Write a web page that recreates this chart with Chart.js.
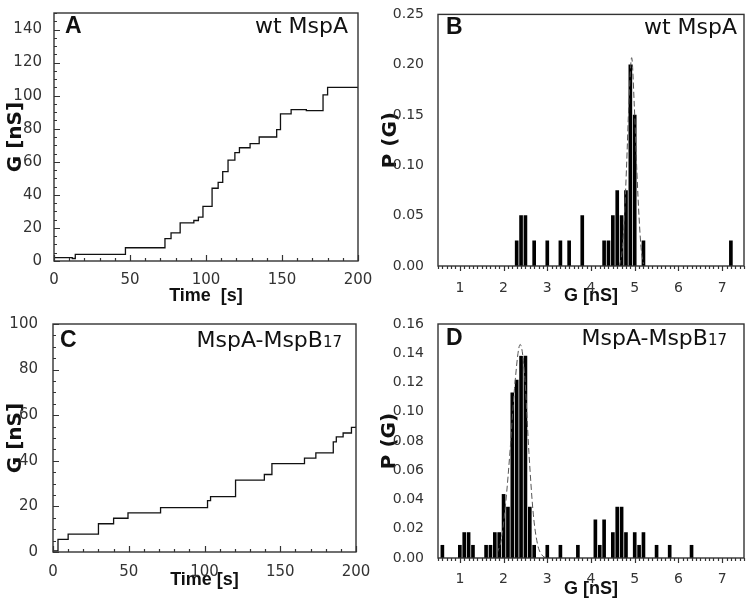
<!DOCTYPE html>
<html>
<head>
<meta charset="utf-8">
<script src="https://cdn.jsdelivr.net/npm/chart.js@4.4.1/dist/chart.umd.min.js"></script>
<style>
  body { margin: 0; background: #fff; }
  #wrap { position: relative; width: 750px; height: 605px; }
  canvas { position: absolute; }
</style>
</head>
<body>
<div id="wrap">
  <canvas id="chartA" width="375" height="305" style="left:0;top:0"></canvas>
  <canvas id="chartB" width="375" height="305" style="left:375px;top:0"></canvas>
  <canvas id="chartC" width="375" height="300" style="left:0;top:305px"></canvas>
  <canvas id="chartD" width="375" height="300" style="left:375px;top:305px"></canvas>
</div>
<script>
// Panel A: wt MspA, conductance steps (time where a level starts, level)
const timeA = [0, 12, 14, 47, 73, 77, 83, 92, 95, 98, 104, 108, 111, 114.5, 119, 122, 129, 135, 146.5, 149, 156, 166, 177, 180, 200];
const condA = [2, 1.5, 4, 8, 13.5, 17, 23, 24.5, 26.5, 33, 44, 47.5, 54, 61, 65.5, 68.5, 71, 75, 79.5, 89, 91.5, 91, 100.5, 105, 104.5];

// Panel C: MspA-MspB17 conductance steps
const timeC = [0, 3.3, 10, 30, 40, 49.5, 71, 102, 104, 120.5, 139.5, 144.5, 166, 173.5, 185, 187, 191.5, 197, 200];
const condC = [0.5, 5.5, 7.8, 12.4, 14.8, 17.2, 19.5, 22.5, 24.3, 31.5, 34, 38.8, 41.2, 43.5, 48.3, 50.5, 52.2, 54.7, 55];

// Panel B: histogram of single channel conductance, wt MspA
const binsB = [2.3, 2.4, 2.5, 2.7, 3.0, 3.3, 3.5, 3.8, 4.3, 4.4, 4.5, 4.6, 4.7, 4.8, 4.9, 5.0, 5.2, 7.2];
const probB = [0.025, 0.05, 0.05, 0.025, 0.025, 0.025, 0.025, 0.05, 0.025, 0.025, 0.05, 0.075, 0.05, 0.075, 0.2, 0.15, 0.025, 0.025];
// gaussian fit
const fitBx = [4.65, 4.71, 4.76, 4.81, 4.87, 4.93, 4.99, 5.05, 5.10, 5.15, 5.20];
const fitBy = [0.0, 0.014, 0.045, 0.095, 0.165, 0.207, 0.16, 0.093, 0.048, 0.016, 0.002];

// Panel D: histogram, MspA-MspB17
const binsD = [0.6, 1.0, 1.1, 1.2, 1.3, 1.6, 1.7, 1.8, 1.9, 2.0, 2.1, 2.2, 2.3, 2.4, 2.5, 2.6, 2.7, 3.0, 3.3, 3.7, 4.1, 4.2, 4.3, 4.5, 4.6, 4.7, 4.8, 5.0, 5.1, 5.2, 5.5, 5.8, 6.3];
const probD = [0.0087, 0.0087, 0.0174, 0.0174, 0.0087, 0.0087, 0.0087, 0.0174, 0.0174, 0.0435, 0.0348, 0.113, 0.1217, 0.138, 0.138, 0.0348, 0.0087, 0.0087, 0.0087, 0.0087, 0.0261, 0.0087, 0.0261, 0.0174, 0.0348, 0.0348, 0.0174, 0.0174, 0.0087, 0.0174, 0.0087, 0.0087, 0.0087];
const fitDx = [1.85, 1.95, 2.05, 2.15, 2.25, 2.38, 2.48, 2.58, 2.68, 2.78, 2.88, 2.97];
const fitDy = [0.003, 0.013, 0.038, 0.074, 0.116, 0.146, 0.126, 0.072, 0.03, 0.009, 0.002, 0.0];

// tick labels
const ticksTime = [0, 50, 100, 150, 200];
const ticksGA = [0, 20, 40, 60, 80, 100, 120, 140];
const ticksGC = [0, 20, 40, 60, 80, 100];
const ticksG = [1, 2, 3, 4, 5, 6, 7];
const ticksPB = [0, 0.05, 0.10, 0.15, 0.20, 0.25];
const ticksPD = [0, 0.02, 0.04, 0.06, 0.08, 0.10, 0.12, 0.14, 0.16];

const panelLetters = ['A', 'B', 'C', 'D'];
const panelNames = [['wt MspA', ''], ['wt MspA', ''], ['MspA-MspB', '17'], ['MspA-MspB', '17']];

const pts = (xs, ys) => xs.map((v, i) => ({ x: v, y: ys[i] }));

// frame, inward/outward tick marks and panel labels
const panelDeco = {
    id: 'panelDeco',
    afterDatasetsDraw(chart, args, o) {
        const { ctx, chartArea: a, scales: { x, y } } = chart;
        ctx.save();
        ctx.strokeStyle = '#333';
        ctx.lineWidth = 1.2;

        const marks = (scale, step, major, cb) => {
            const i0 = Math.ceil(scale.min / step - 1e-6);
            const i1 = Math.floor(scale.max / step + 1e-6);
            for (let i = i0; i <= i1; i++) {
                const v = i * step;
                const isMajor = Math.abs(v / major - Math.round(v / major)) < 1e-6;
                cb(Math.round(scale.getPixelForValue(v)) + 0.5, isMajor ? o.majorLen : o.minorLen);
            }
        };
        ctx.beginPath();
        marks(x, o.xStep, o.xMajor, (px, len) => {
            ctx.moveTo(px, a.bottom);
            ctx.lineTo(px, a.bottom + (o.xOut ? len : -len));
        });
        if (o.yStep) {
            marks(y, o.yStep, o.yMajor, (py, len) => {
                ctx.moveTo(a.left, py);
                ctx.lineTo(a.left + len, py);
            });
        }
        ctx.stroke();

        ctx.lineWidth = 1.4;
        ctx.strokeRect(a.left, a.top, a.right - a.left, a.bottom - a.top);

        ctx.fillStyle = '#111';
        ctx.textBaseline = 'alphabetic';
        ctx.font = 'bold 23px "Liberation Sans"';
        ctx.textAlign = 'left';
        ctx.fillText(o.letter, a.left + o.letterDx, a.top + o.letterDy);

        ctx.textAlign = 'right';
        let right = a.right - o.nameDx;
        if (o.name[1]) {
            ctx.font = '15px "DejaVu Sans"';
            ctx.fillText(o.name[1], right, a.top + o.letterDy);
            right -= ctx.measureText(o.name[1]).width;
        }
        ctx.font = '22px "DejaVu Sans"';
        ctx.fillText(o.name[0], right, a.top + o.letterDy);
        ctx.restore();
    }
};

function axisX(min, max, ticks, size, fontSize, pad, title, titlePad) {
    return {
        type: 'linear', min: min, max: max, offset: false,
        afterBuildTicks: s => { s.ticks = ticks.map(v => ({ value: v })); },
        afterFit: s => { s.height = size; },
        grid: { display: false },
        border: { display: false },
        ticks: { color: '#333', padding: pad, maxRotation: 0, font: { family: 'DejaVu Sans', size: fontSize } },
        title: { display: true, text: title, color: '#111', padding: { top: 0, bottom: titlePad },
                 font: { family: 'Liberation Sans', size: 18, weight: 'bold', lineHeight: 1 } }
    };
}

function axisY(min, max, ticks, size, fontSize, pad, digits, title, titlePad) {
    return {
        min: min, max: max,
        afterBuildTicks: s => { s.ticks = ticks.map(v => ({ value: v })); },
        afterFit: s => { s.width = size; },
        grid: { display: false },
        border: { display: false },
        ticks: { color: '#333', padding: pad, font: { family: 'DejaVu Sans', size: fontSize },
                 callback: v => v.toFixed(digits) },
        title: { display: true, text: title, color: '#111', padding: { top: titlePad, bottom: 0 },
                 font: { family: 'DejaVu Sans', size: 20, weight: 'bold', lineHeight: 1 } }
    };
}

const baseOptions = (pad, x, y, deco) => ({
    responsive: false,
    animation: false,
    layout: { padding: pad },
    plugins: { legend: { display: false }, tooltip: { enabled: false }, panelDeco: deco },
    scales: { x: x, y: y }
});

// A
new Chart(document.getElementById('chartA'), {
    type: 'line',
    data: { datasets: [{
        data: pts(timeA, condA), stepped: 'before', borderColor: '#111', borderWidth: 1.3, pointRadius: 0
    }] },
    options: baseOptions({ left: 0, right: 17, top: 13, bottom: 0 },
        axisX(0, 200, ticksTime, 44, 15, 2, 'Time  [s]', 0),
        axisY(0, 150, ticksGA, 54, 15, 4, 0, 'G [nS]', 6),
        { letter: panelLetters[0], name: panelNames[0], letterDx: 11, letterDy: 20, nameDx: 10,
          xStep: 10, xMajor: 50, yStep: 5, yMajor: 20, xOut: false, minorLen: 3, majorLen: 6 }),
    plugins: [panelDeco]
});

// B
new Chart(document.getElementById('chartB'), {
    type: 'bar',
    data: { datasets: [
        { type: 'line', data: pts(fitBx, fitBy), borderColor: '#555', borderWidth: 1, borderDash: [6, 3],
          pointRadius: 0, cubicInterpolationMode: 'monotone', order: 0 },
        { data: pts(binsB, probB), backgroundColor: '#000', barThickness: 3, order: 1 }
    ] },
    options: baseOptions({ left: 0, right: 6, top: 13, bottom: 0 },
        axisX(0.5, 7.5, ticksG, 39, 14, 6, 'G [nS]', 0),
        axisY(0, 0.25, ticksPB, 63, 14, 6, 2, 'P (G)', 6),
        { letter: panelLetters[1], name: panelNames[1], letterDx: 8, letterDy: 20, nameDx: 7,
          xStep: 0.1, xMajor: 1, yStep: 0, xOut: true, minorLen: 3, majorLen: 5 }),
    plugins: [panelDeco]
});

// C
new Chart(document.getElementById('chartC'), {
    type: 'line',
    data: { datasets: [{
        data: pts(timeC, condC), stepped: 'before', borderColor: '#111', borderWidth: 1.3, pointRadius: 0
    }] },
    options: baseOptions({ left: 0, right: 19, top: 19, bottom: 0 },
        axisX(0, 200, ticksTime, 53, 15, 3, 'Time [s]', 16),
        axisY(0, 100, ticksGC, 53, 15, 7, 0, 'G [nS]', 6),
        { letter: panelLetters[2], name: panelNames[2], letterDx: 7, letterDy: 23, nameDx: 14,
          xStep: 10, xMajor: 50, yStep: 5, yMajor: 20, xOut: false, minorLen: 3, majorLen: 6 }),
    plugins: [panelDeco]
});

// D
new Chart(document.getElementById('chartD'), {
    type: 'bar',
    data: { datasets: [
        { type: 'line', data: pts(fitDx, fitDy), borderColor: '#555', borderWidth: 1, borderDash: [6, 3],
          pointRadius: 0, cubicInterpolationMode: 'monotone', order: 0 },
        { data: pts(binsD, probD), backgroundColor: '#000', barThickness: 3, order: 1 }
    ] },
    options: baseOptions({ left: 0, right: 6, top: 19, bottom: 0 },
        axisX(0.5, 7.5, ticksG, 47, 14, 5, 'G [nS]', 7),
        axisY(0, 0.16, ticksPD, 63, 14, 6, 2, 'P (G)', 5),
        { letter: panelLetters[3], name: panelNames[3], letterDx: 8, letterDy: 21, nameDx: 17,
          xStep: 0.1, xMajor: 1, yStep: 0, xOut: true, minorLen: 3, majorLen: 5 }),
    plugins: [panelDeco]
});
</script>
</body>
</html>
